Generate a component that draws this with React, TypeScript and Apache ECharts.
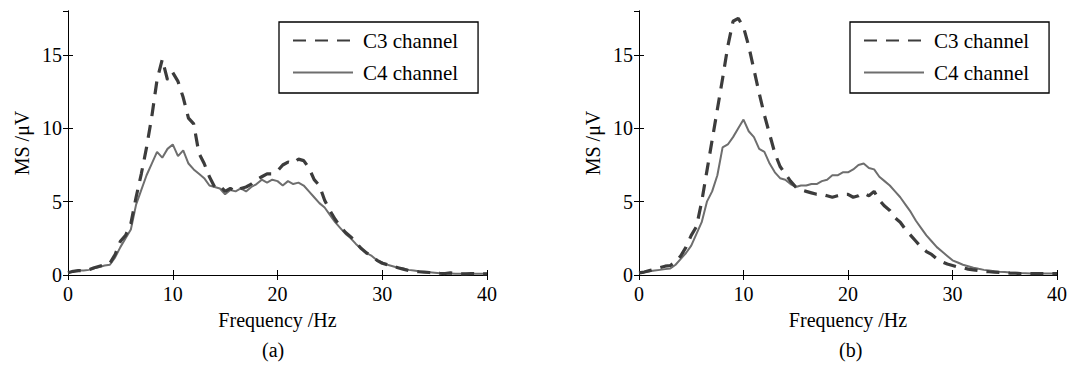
import React, { useEffect, useRef } from "react";
import * as echarts from "echarts";

// Frequency sampling (Hz)
const FREQ = [
  0, 0.5, 1, 1.5, 2, 2.5, 3, 3.5, 4, 4.5, 5, 5.5, 6, 6.5, 7, 7.5, 8, 8.5, 9, 9.5,
  10, 10.5, 11, 11.5, 12, 12.5, 13, 13.5, 14, 14.5, 15, 15.5, 16, 16.5, 17, 17.5, 18, 18.5, 19, 19.5,
  20, 20.5, 21, 21.5, 22, 22.5, 23, 23.5, 24, 24.5, 25, 25.5, 26, 26.5, 27, 27.5, 28, 28.5, 29, 29.5,
  30, 30.5, 31, 31.5, 32, 32.5, 33, 33.5, 34, 34.5, 35, 35.5, 36, 36.5, 37, 37.5, 38, 38.5, 39, 39.5, 40,
];

// (a) C3 channel
const A_C3 = [
  0.15, 0.25, 0.3, 0.3, 0.35, 0.5, 0.6, 0.7, 0.8, 1.4, 2.3, 2.7, 3.5, 5.3, 6.9, 8.7, 10.8, 13.3, 14.7, 13.3,
  13.8, 13.2, 12.1, 10.7, 10.3, 8.3, 7.6, 6.7, 6.0, 6.1, 5.7, 5.9, 5.7, 5.9, 6.0, 6.2, 6.5, 6.7, 6.9, 6.9,
  7.1, 7.5, 7.7, 7.6, 7.9, 7.8, 7.3, 6.5, 6.1, 5.1, 4.4, 3.8, 3.3, 2.9, 2.6, 2.2, 1.8, 1.5, 1.3, 1.0,
  0.8, 0.7, 0.6, 0.5, 0.4, 0.3, 0.25, 0.22, 0.2, 0.17, 0.15, 0.12, 0.1, 0.15, 0.1, 0.08, 0.08, 0.1, 0.08, 0.08, 0.08,
];
// (a) C4 channel
const A_C4 = [
  0.15, 0.25, 0.3, 0.3, 0.35, 0.45, 0.55, 0.65, 0.7, 1.2, 1.9, 2.5, 3.1, 4.8, 5.8, 6.8, 7.6, 8.4, 8.0, 8.6,
  8.9, 8.1, 8.5, 7.6, 7.2, 6.9, 6.6, 6.1, 6.0, 5.9, 5.5, 5.8, 5.7, 5.9, 5.7, 6.0, 6.2, 6.5, 6.3, 6.5,
  6.4, 6.1, 6.4, 6.2, 6.3, 6.1, 5.7, 5.3, 4.9, 4.6, 4.1, 3.6, 3.2, 2.8, 2.5, 2.1, 1.8, 1.5, 1.3, 1.0,
  0.85, 0.7, 0.6, 0.5, 0.45, 0.35, 0.3, 0.25, 0.2, 0.18, 0.15, 0.12, 0.1, 0.1, 0.08, 0.08, 0.08, 0.08, 0.08, 0.08, 0.08,
];
// (b) C3 channel
const B_C3 = [
  0.15, 0.2, 0.3, 0.4, 0.5, 0.6, 0.65, 0.9, 1.3, 1.9, 2.7, 3.3, 5.0, 7.1, 9.2, 11.3, 13.4, 15.6, 17.3, 17.5,
  16.9, 15.6, 14.0, 12.4, 10.9, 9.6, 8.3, 7.4, 6.9, 6.4, 6.0, 5.8, 5.7, 5.6, 5.5, 5.5, 5.4, 5.3, 5.4, 5.5,
  5.5, 5.3, 5.4, 5.6, 5.4, 5.7, 5.1, 4.7, 4.4, 3.9, 3.6, 3.1, 2.7, 2.3, 1.9, 1.6, 1.4, 1.1, 0.9, 0.75,
  0.65, 0.55, 0.5, 0.4, 0.35, 0.3, 0.25, 0.22, 0.2, 0.17, 0.15, 0.13, 0.12, 0.1, 0.1, 0.1, 0.1, 0.1, 0.1, 0.1, 0.1,
];
// (b) C4 channel
const B_C4 = [
  0.15, 0.2, 0.25, 0.3, 0.35, 0.4, 0.45, 0.7, 1.1, 1.5, 2.0, 2.8, 3.6, 5.0, 5.7, 6.8, 8.7, 8.9, 9.4, 10.0,
  10.6, 9.8, 9.4, 8.6, 8.4, 7.6, 7.0, 6.6, 6.5, 6.2, 6.0, 6.1, 6.1, 6.2, 6.2, 6.4, 6.5, 6.8, 6.8, 7.0,
  7.0, 7.2, 7.5, 7.6, 7.3, 7.2, 6.7, 6.4, 6.1, 5.7, 5.3, 4.8, 4.3, 3.7, 3.2, 2.7, 2.3, 1.9, 1.6, 1.3,
  1.0, 0.85, 0.7, 0.6, 0.5, 0.42, 0.35, 0.3, 0.25, 0.22, 0.2, 0.17, 0.15, 0.13, 0.12, 0.1, 0.1, 0.1, 0.1, 0.1, 0.1,
];

const SERIES_NAMES = ["C3 channel", "C4 channel"];
const X_NAME = "Frequency /Hz";
const Y_NAME = "MS /\u03bcV";
const CAPTIONS = ["(a)", "(b)"];

const FONT = "Liberation Serif";
const C3_COLOR = "#3c3c3c";
const C4_COLOR = "#6e6e6e";

const pairs = (ys: number[]) => FREQ.map((f, i) => [f, ys[i]]);

export default function App() {
  const ref = useRef<HTMLDivElement>(null);
  useEffect(() => {
    if (!ref.current) return;
    const chart = echarts.init(ref.current, undefined, { renderer: "svg" });

    const grids = [
      { left: 68, top: 11, width: 419, height: 264 },
      { left: 639, top: 11, width: 420, height: 264 },
    ];

    const axisLine = { show: true, lineStyle: { color: "#000", width: 1 } };
    const tick = { show: true, inside: true, length: 5, lineStyle: { color: "#000" } };
    const label = { color: "#000", fontFamily: FONT, fontSize: 20 };

    const xAxis: any[] = [];
    const yAxis: any[] = [];
    grids.forEach((_, g) => {
      xAxis.push({
        type: "value", gridIndex: g, min: 0, max: 40, interval: 10, position: "bottom",
        axisLine, axisTick: tick, splitLine: { show: false },
        axisLabel: { ...label, margin: 9 },
        name: X_NAME, nameLocation: "middle", nameGap: 35,
        nameTextStyle: { color: "#000", fontFamily: FONT, fontSize: 20 },
      });
      xAxis.push({
        type: "value", gridIndex: g, min: 0, max: 40, interval: 10, position: "top",
        axisLine, axisTick: tick, splitLine: { show: false }, axisLabel: { show: false },
      });
      yAxis.push({
        type: "value", gridIndex: g, min: 0, max: 18, interval: 5, position: "left",
        axisLine, axisTick: tick, splitLine: { show: false },
        axisLabel: { ...label, margin: 6, showMaxLabel: false },
        name: Y_NAME, nameLocation: "middle", nameGap: 36, nameRotate: 90,
        nameTextStyle: { color: "#000", fontFamily: FONT, fontSize: 20 },
      });
      yAxis.push({
        type: "value", gridIndex: g, min: 0, max: 18, interval: 5, position: "right",
        axisLine, axisTick: tick, splitLine: { show: false }, axisLabel: { show: false },
      });
    });

    const data = [
      [A_C3, A_C4],
      [B_C3, B_C4],
    ];
    const series: any[] = [];
    data.forEach((pair, g) => {
      series.push({
        type: "line", name: SERIES_NAMES[0], xAxisIndex: g * 2, yAxisIndex: g * 2,
        data: pairs(pair[0]), showSymbol: false, symbol: "none",
        lineStyle: { color: C3_COLOR, width: 3.2, type: [13, 9] }, itemStyle: { color: C3_COLOR },
        z: 3,
      });
      series.push({
        type: "line", name: SERIES_NAMES[1], xAxisIndex: g * 2, yAxisIndex: g * 2,
        data: pairs(pair[1]), showSymbol: false, symbol: "none",
        lineStyle: { color: C4_COLOR, width: 2, type: "solid" }, itemStyle: { color: C4_COLOR },
        z: 2,
      });
    });

    const legendBase = {
      orient: "vertical", top: 22, padding: [8, 20, 10, 13],
      itemWidth: 60, itemHeight: 14, itemGap: 11,
      borderColor: "#000", borderWidth: 1.3, backgroundColor: "#fff",
      itemStyle: { opacity: 0 },
      textStyle: { color: "#000", fontFamily: FONT, fontSize: 21, padding: [0, 0, 0, 5] },
      data: SERIES_NAMES, selectedMode: false,
    };

    chart.setOption({
      animation: false,
      backgroundColor: "#fff",
      grid: grids,
      xAxis, yAxis, series,
      legend: [
        { ...legendBase, left: 279 },
        { ...legendBase, left: 850 },
      ],
      graphic: [
        { type: "text", left: 274 - 12, top: 340, style: { text: CAPTIONS[0], font: `20px "${FONT}"`, fill: "#000" } },
        { type: "text", left: 851 - 12, top: 340, style: { text: CAPTIONS[1], font: `20px "${FONT}"`, fill: "#000" } },
      ],
    });
    return () => chart.dispose();
  }, []);
  return (
    <div
      ref={ref}
      style={{ position: "fixed", left: 0, top: 0, width: 1070, height: 367 }}
    />
  );
}
